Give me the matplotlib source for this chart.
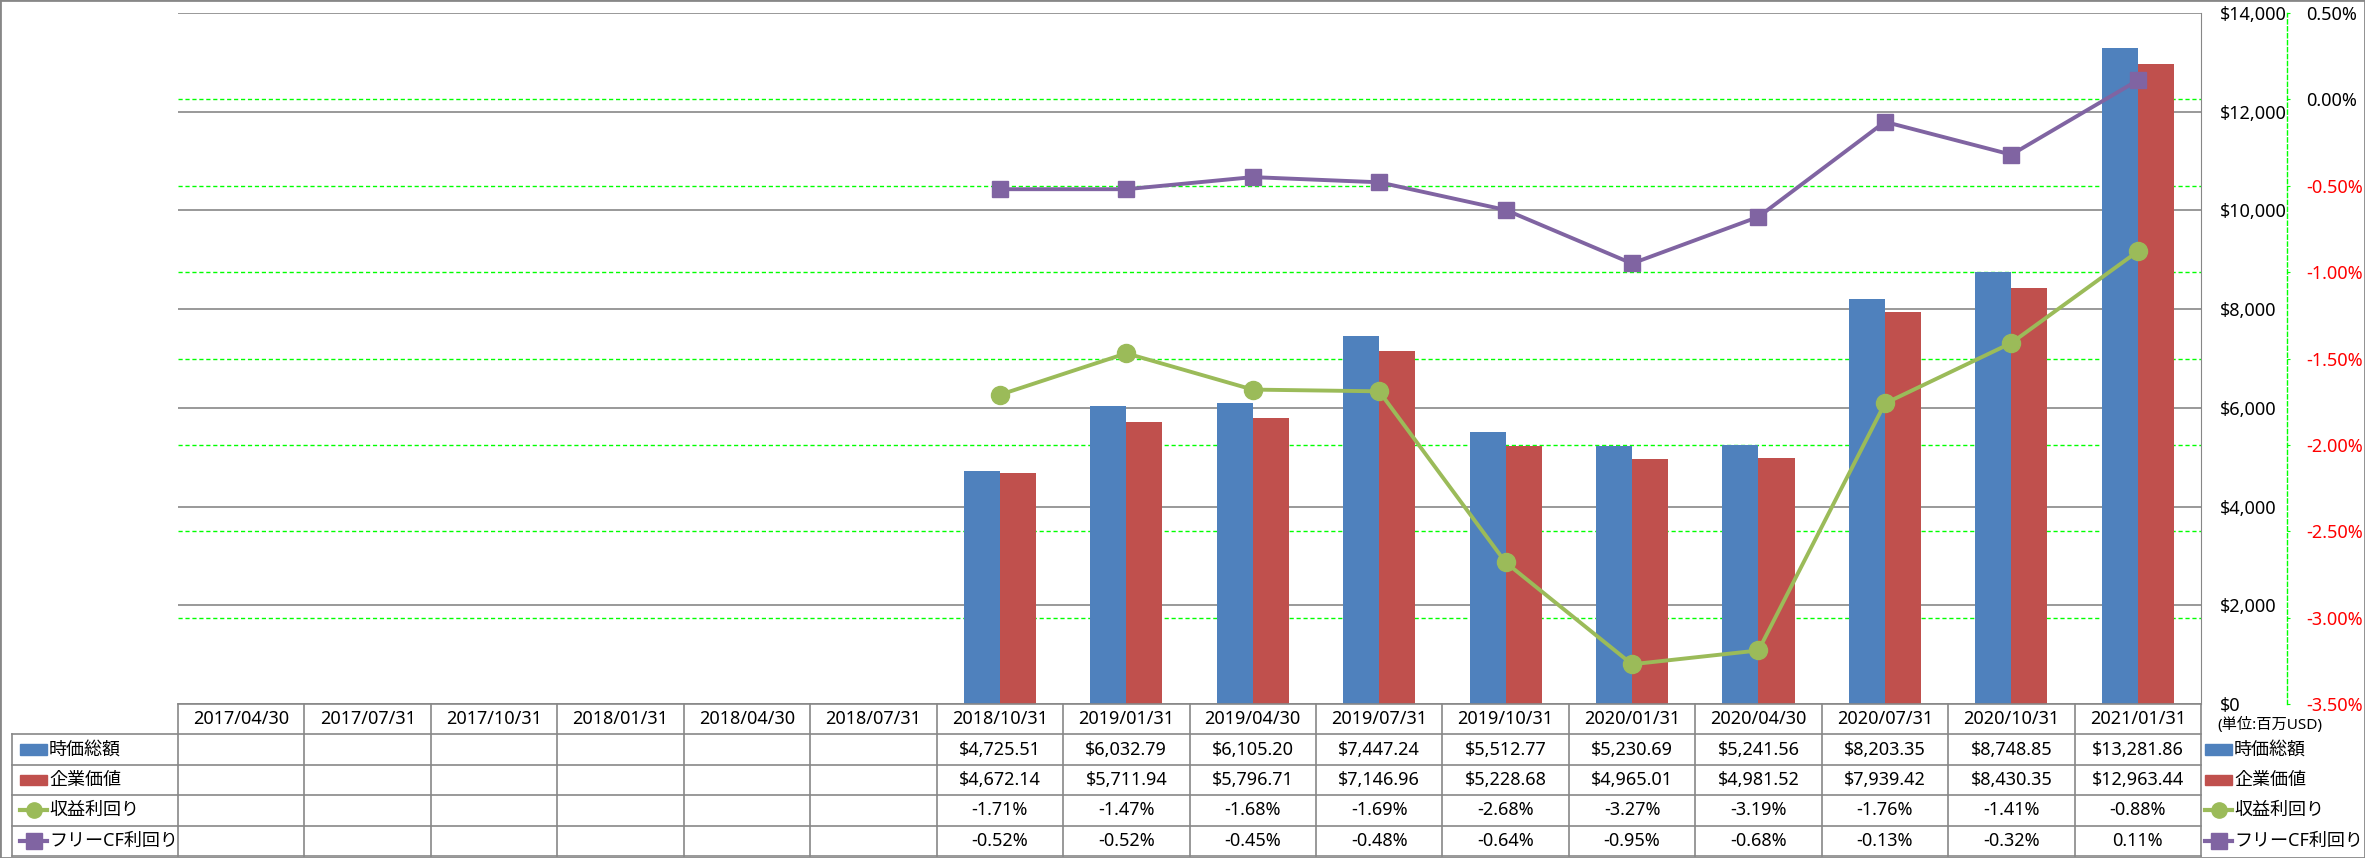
import matplotlib
matplotlib.use('Agg')
import matplotlib.pyplot as plt
import matplotlib.transforms as mtransforms
from matplotlib.patches import Rectangle
from matplotlib.ticker import FuncFormatter, MultipleLocator
import numpy as np

plt.rcParams['font.family'] = ['Noto Sans', 'Noto Sans CJK JP']
plt.rcParams['font.size'] = 13

# Data
dates = ['2017/04/30', '2017/07/31', '2017/10/31', '2018/01/31', '2018/04/30', '2018/07/31',
         '2018/10/31', '2019/01/31', '2019/04/30', '2019/07/31', '2019/10/31', '2020/01/31',
         '2020/04/30', '2020/07/31', '2020/10/31', '2021/01/31']
nan = np.nan
market_cap = [nan, nan, nan, nan, nan, nan,
              4725.51, 6032.79, 6105.20, 7447.24, 5512.77, 5230.69, 5241.56, 8203.35, 8748.85, 13281.86]
enterprise_value = [nan, nan, nan, nan, nan, nan,
                    4672.14, 5711.94, 5796.71, 7146.96, 5228.68, 4965.01, 4981.52, 7939.42, 8430.35, 12963.44]
earnings_yield = [nan, nan, nan, nan, nan, nan,
                  -1.71, -1.47, -1.68, -1.69, -2.68, -3.27, -3.19, -1.76, -1.41, -0.88]
fcf_yield = [nan, nan, nan, nan, nan, nan,
             -0.52, -0.52, -0.45, -0.48, -0.64, -0.95, -0.68, -0.13, -0.32, 0.11]

series_names = ['時価総額', '企業価値', '収益利回り', 'フリーCF利回り']
unit_label = '(単位:百万USD)'

c_blue = '#4F81BD'
c_red = '#C0504D'
c_green = '#9BBB59'
c_purple = '#8064A2'
c_grid = '#878787'
c_lime = '#00FF00'

W, H = 2365, 858
fig = plt.figure(figsize=(W / 100, H / 100), dpi=100)

# plot area in pixels
x_left, x_right, y_top, y_bot = 178, 2201, 13, 704
ax = fig.add_axes([x_left / W, 1 - y_bot / H, (x_right - x_left) / W, (y_bot - y_top) / H])
ax2 = ax.twinx()

x = np.arange(len(dates))
bw = 0.285
ax.bar(x - bw / 2, market_cap, bw, color=c_blue, zorder=3)
ax.bar(x + bw / 2, enterprise_value, bw, color=c_red, zorder=3)

ax.set_xlim(-0.5, len(dates) - 0.5)
ax.set_ylim(0, 14000)
ax.yaxis.set_major_locator(MultipleLocator(2000))
ax.yaxis.set_major_formatter(FuncFormatter(lambda v, p: f'${v:,.0f}'))
ax.yaxis.tick_right()
ax.tick_params(axis='y', length=0, pad=13.5, labelsize=13)
ax.set_xticks([])
for s in ['left', 'top', 'bottom']:
    ax.spines[s].set_visible(False)
ax.spines['right'].set_color(c_grid)
ax.grid(axis='y', color=c_grid, lw=1.2, zorder=0)
ax.set_axisbelow(True)

# percent axis
ax2.plot(x, earnings_yield, color=c_green, lw=2.8, marker='o', ms=13, zorder=4)
ax2.plot(x, fcf_yield, color=c_purple, lw=2.8, marker='s', ms=12, zorder=5)
ax2.set_ylim(-3.5, 0.5)
ax2.yaxis.set_major_locator(MultipleLocator(0.5))
ax2.yaxis.set_major_formatter(FuncFormatter(lambda v, p: f'{v:.2f}%'))
ax2.spines['right'].set_position(('outward', 62))
ax2.spines['right'].set_color(c_lime)
ax2.spines['right'].set_linestyle((0, (3, 2)))
ax2.spines['right'].set_linewidth(1)
for s in ['left', 'top', 'bottom']:
    ax2.spines[s].set_visible(False)
ax2.tick_params(axis='y', length=2.2, color=c_lime, pad=11.5, labelsize=13)
fig.canvas.draw()
for lab in ax2.get_yticklabels():
    if lab.get_position()[1] < -1e-9:
        lab.set_color('#FF0000')

# green dashed percent gridlines drawn behind the bars (inner ones only)
tr = mtransforms.blended_transform_factory(ax.transAxes, ax2.transData)
for p in np.arange(-3.0, 0.01, 0.5):
    ax.plot([0, 1], [p, p], transform=tr, color=c_lime, lw=1, ls=(0, (3, 2)), zorder=1)

# data table
tab_bot = 856
tab = fig.add_axes([x_left / W, 1 - tab_bot / H, (x_right - x_left) / W, (tab_bot - y_bot) / H])
tab.set_xlim(-0.5, len(dates) - 0.5)
tab.set_ylim(5, 0)
tab.axis('off')
cw = (x_right - x_left) / len(dates)
x_lab = -0.5 - (x_left - 12) / cw

for i in range(len(dates) + 1):
    tab.plot([i - 0.5, i - 0.5], [0, 5], color=c_grid, lw=1.2, clip_on=False)
tab.plot([-0.5, len(dates) - 0.5], [0, 0], color=c_grid, lw=1.2, clip_on=False)
for r in range(1, 6):
    tab.plot([x_lab, len(dates) - 0.5], [r, r], color=c_grid, lw=1.2, clip_on=False)
tab.plot([x_lab, x_lab], [1, 5], color=c_grid, lw=1.2, clip_on=False)

for i, d in enumerate(dates):
    tab.text(i, 0.5, d, ha='center', va='center', fontsize=13)

rows = [
    [f'${v:,.2f}' if not np.isnan(v) else '' for v in market_cap],
    [f'${v:,.2f}' if not np.isnan(v) else '' for v in enterprise_value],
    [f'{v:.2f}%' if not np.isnan(v) else '' for v in earnings_yield],
    [f'{v:.2f}%' if not np.isnan(v) else '' for v in fcf_yield],
]
for r, vals in enumerate(rows):
    for i, s in enumerate(vals):
        tab.text(i, r + 1.5, s, ha='center', va='center', fontsize=13)


def draw_key(x0, yc, kind, color):
    k = 27 / cw
    if kind == 'bar':
        tab.add_patch(Rectangle((x0, yc - 0.17), k, 0.34, color=color, clip_on=False))
    else:
        m = 'o' if kind == 'circle' else 's'
        tab.plot([x0, x0 + k], [yc, yc], color=color, lw=3, clip_on=False)
        tab.plot([x0 + k / 2], [yc], color=color, marker=m, ms=11, clip_on=False)
    return x0 + k + 2 / cw


kinds = ['bar', 'bar', 'circle', 'square']
colors = [c_blue, c_red, c_green, c_purple]
for r in range(4):
    tx = draw_key(x_lab + 8 / cw, r + 1.5, kinds[r], colors[r])
    tab.text(tx, r + 1.5, series_names[r], ha='left', va='center', fontsize=13)
    tx = draw_key(len(dates) - 0.5 + 4 / cw, r + 1.5, kinds[r], colors[r])
    tab.text(tx, r + 1.5, series_names[r], ha='left', va='center', fontsize=13)

tab.text(len(dates) - 0.5 + 16 / cw, 0.7, unit_label, ha='left', va='center', fontsize=11)

# outer frame
fig.patches.append(Rectangle((0, 0), 1, 1, transform=fig.transFigure, fill=False,
                             edgecolor=c_grid, lw=2))

fig.savefig('out.png', dpi=100)
